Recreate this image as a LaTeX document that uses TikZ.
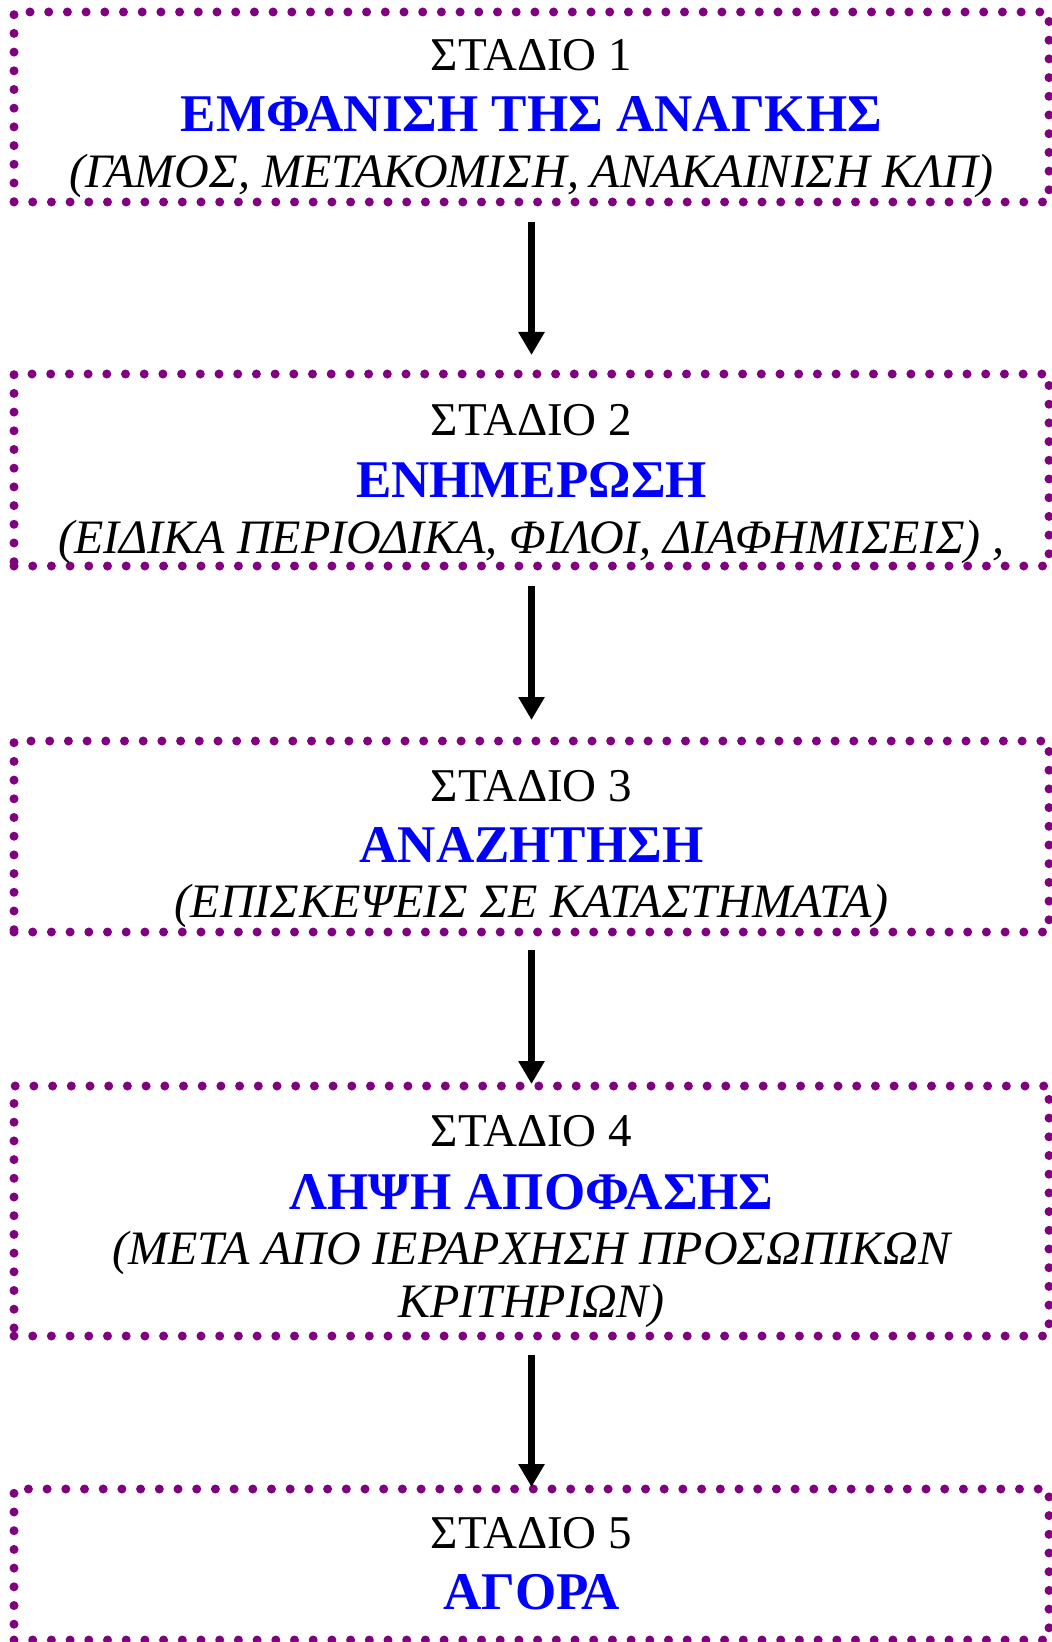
\documentclass[tikz,border=0pt]{standalone}
\usepackage{fontspec}
\setmainfont{Liberation Serif}
\usetikzlibrary{arrows.meta}
\definecolor{purple}{HTML}{800080}
\definecolor{blue}{HTML}{0000FF}
\tikzset{
  every picture/.style={line join=round, line cap=round, >=Stealth},
  stagebox/.style={draw=purple, line width=4.5pt, dash pattern=on 0pt off 9.35pt, line cap=round,
    minimum width=517.5pt, inner sep=0pt, outer sep=0pt},
  stagelbl/.style={anchor=base, font=\fontsize{23.5pt}{26.5pt}\selectfont, inner sep=0pt},
  stagetitle/.style={anchor=base, text=blue, font=\fontsize{26.5pt}{30pt}\selectfont\bfseries, inner sep=0pt},
  stagenote/.style={anchor=base, align=center, font=\fontsize{24pt}{26.5pt}\selectfont\itshape, inner sep=0pt},
  flow/.style={line width=3.5pt, line cap=butt, -{Triangle[width=12.5pt,length=11.5pt]}},
}

\begin{document}
\begin{tikzpicture}[x=0.5pt,y=-0.5pt]
\useasboundingbox (0,0) rectangle (1052,1642);
% stage boxes
\node[stagebox,minimum height=95pt] (b1) at (531.5,107) {};
\node[stagebox,minimum height=96pt] (b2) at (531.5,470) {};
\node[stagebox,minimum height=95.5pt] (b3) at (531.5,836.5) {};
\node[stagebox,minimum height=125pt] (b4) at (531.5,1211) {};
\node[stagebox,minimum height=75.5pt] (b5) at (531.5,1564.5) {};
% texts
\node[stagelbl] (s1) at (531.5,71) {ΣΤΑΔΙΟ 1};
\node[stagetitle] (t1) at (531.5,132) {ΕΜΦΑΝΙΣΗ ΤΗΣ ΑΝΑΓΚΗΣ};
\node[stagenote] (n1) at (531.5,188) {(ΓΑΜΟΣ, ΜΕΤΑΚΟΜΙΣΗ, ΑΝΑΚΑΙΝΙΣΗ ΚΛΠ)};
\node[stagelbl] (s2) at (531.5,435) {ΣΤΑΔΙΟ 2};
\node[stagetitle] (t2) at (531.5,497) {ΕΝΗΜΕΡΩΣΗ};
\node[stagenote] (n2) at (531.5,553) {(ΕΙΔΙΚΑ ΠΕΡΙΟΔΙΚΑ, ΦΙΛΟΙ, ΔΙΑΦΗΜΙΣΕΙΣ) ,};
\node[stagelbl] (s3) at (531.5,801) {ΣΤΑΔΙΟ 3};
\node[stagetitle] (t3) at (531.5,862) {ΑΝΑΖΗΤΗΣΗ};
\node[stagenote] (n3) at (531.5,917) {(ΕΠΙΣΚΕΨΕΙΣ ΣΕ ΚΑΤΑΣΤΗΜΑΤΑ)};
\node[stagelbl] (s4) at (531.5,1146) {ΣΤΑΔΙΟ 4};
\node[stagetitle] (t4) at (531.5,1209) {ΛΗΨΗ ΑΠΟΦΑΣΗΣ};
\node[stagenote] (n4) at (531.5,1317) {(ΜΕΤΑ ΑΠΟ ΙΕΡΑΡΧΗΣΗ ΠΡΟΣΩΠΙΚΩΝ\\ΚΡΙΤΗΡΙΩΝ)};
\node[stagelbl] (s5) at (531.5,1548) {ΣΤΑΔΙΟ 5};
\node[stagetitle] (t5) at (531.5,1609) {ΑΓΟΡΑ};
% arrows
\draw[flow,shorten <=10pt,shorten >=9.5pt] (b1.south) -- (b2.north);
\draw[flow,shorten <=10pt,shorten >=10.5pt] (b2.south) -- (b3.north);
\draw[flow,shorten <=9pt,shorten >=1pt] (b3.south) -- (b4.north);
\draw[flow,shorten <=9.5pt,shorten >=1pt] (b4.south) -- (b5.north);
\end{tikzpicture}
\end{document}
